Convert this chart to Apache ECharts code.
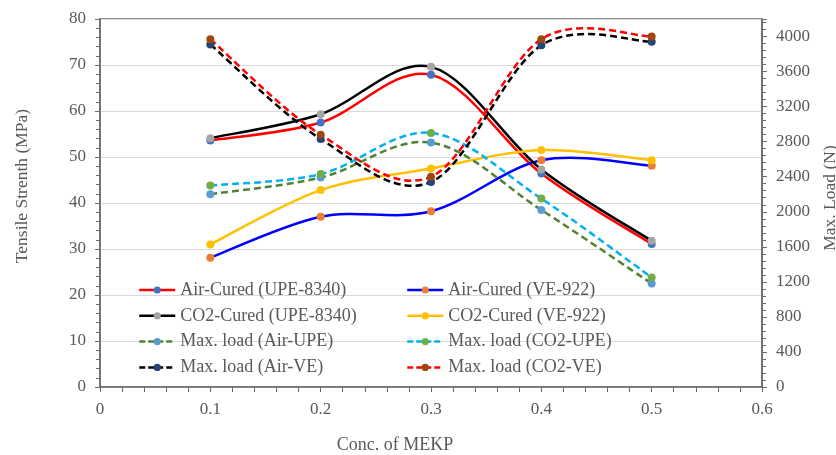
<!DOCTYPE html>
<html><head><meta charset="utf-8">
<script src="https://cdn.jsdelivr.net/npm/echarts@6/dist/echarts.min.js"></script>
<style>html,body{margin:0;padding:0;background:#fff}#c{width:836px;height:455px}</style>
</head><body><div id="c"></div>
<script>
const concentrations = [0.1, 0.2, 0.3, 0.4, 0.5];
const airUPE = [53.6, 57.5, 67.9, 46.4, 31.1];
const co2UPE = [54.1, 59.3, 69.6, 47.3, 31.8];
const airVE = [28.1, 37.0, 38.2, 49.3, 48.1];
const co2VE = [31.0, 42.8, 47.5, 51.5, 49.3];
const loadAirUPE = [2200, 2390, 2790, 2020, 1180];
const loadCO2UPE = [2300, 2430, 2900, 2150, 1250];
const loadAirVE = [3910, 2830, 2340, 3900, 3940];
const loadCO2VE = [3970, 2880, 2400, 3970, 4000];
const seriesNames = ['Air-Cured (UPE-8340)', 'Air-Cured (VE-922)', 'CO2-Cured (UPE-8340)', 'CO2-Cured (VE-922)',
  'Max. load (Air-UPE)', 'Max. load (CO2-UPE)', 'Max. load (Air-VE)', 'Max. load (CO2-VE)'];

const FONT = 'Liberation Serif';
const GRAY = '#595959';
const AXIS = '#6b6b6b';
function pts(vals) { return concentrations.map((x, i) => [x, vals[i]]); }

// Smooth curve (Excel-like Catmull-Rom Bezier) through the data points, positioned by the axes
function curveSeries(name, vals, lineColor, dash, yIdx) {
  return {
    type: 'custom', name: name + ' curve', coordinateSystem: 'cartesian2d', yAxisIndex: yIdx,
    data: [[concentrations[0], vals[0]]], silent: true, clip: false,
    renderItem: function (params, api) {
      const p = concentrations.map((x, i) => api.coord([x, vals[i]]));
      const n = p.length;
      let d = 'M' + p[0][0] + ' ' + p[0][1];
      for (let i = 0; i < n - 1; i++) {
        const p0 = p[Math.max(i - 1, 0)], p1 = p[i], p2 = p[i + 1], p3 = p[Math.min(i + 2, n - 1)];
        const c1x = p1[0] + (p2[0] - p0[0]) / 6, c1y = p1[1] + (p2[1] - p0[1]) / 6;
        const c2x = p2[0] - (p3[0] - p1[0]) / 6, c2y = p2[1] - (p3[1] - p1[1]) / 6;
        d += ' C' + c1x + ' ' + c1y + ' ' + c2x + ' ' + c2y + ' ' + p2[0] + ' ' + p2[1];
      }
      return {
        type: 'path', shape: { pathData: d },
        style: { fill: 'none', stroke: lineColor, lineWidth: 2.5, lineDash: dash ? [7, 4] : null }
      };
    }
  };
}
function markerSeries(name, vals, markColor, yIdx) {
  return {
    name: name, type: 'line', yAxisIndex: yIdx, data: pts(vals),
    symbol: 'circle', symbolSize: 8, showSymbol: true,
    itemStyle: { color: markColor },
    lineStyle: { opacity: 0, width: 0 },
    emphasis: { disabled: true }
  };
}
const styles = [
  { vals: airUPE, line: '#ff0000', mark: '#4472c4', dash: false, y: 0 },
  { vals: airVE, line: '#0000ff', mark: '#ed7d31', dash: false, y: 0 },
  { vals: co2UPE, line: '#000000', mark: '#a5a5a5', dash: false, y: 0 },
  { vals: co2VE, line: '#ffc000', mark: '#ffc000', dash: false, y: 0 },
  { vals: loadAirUPE, line: '#548235', mark: '#5b9bd5', dash: true, y: 1 },
  { vals: loadCO2UPE, line: '#00b0f0', mark: '#70ad47', dash: true, y: 1 },
  { vals: loadAirVE, line: '#000000', mark: '#264478', dash: true, y: 1 },
  { vals: loadCO2VE, line: '#ff0000', mark: '#9e480e', dash: true, y: 1 }
];
const series = [];
styles.forEach((s, i) => {
  series.push(curveSeries(seriesNames[i], s.vals, s.line, s.dash, s.y));
  series.push(markerSeries(seriesNames[i], s.vals, s.mark, s.y));
});
function legendItem(i) {
  const s = styles[i];
  return {
    name: seriesNames[i],
    itemStyle: { color: s.mark, opacity: 1 },
    lineStyle: { color: s.line, width: 2.5, type: s.dash ? [6, 3] : 'solid', opacity: 1 }
  };
}
const legendCommon = {
  orient: 'vertical', itemWidth: 36, itemHeight: 9, itemGap: 7.8, padding: 0,
  textStyle: { fontFamily: FONT, fontSize: 18, color: GRAY, lineHeight: 18 },
  selectedMode: false
};
const chart = echarts.init(document.getElementById('c'));
chart.setOption({
  animation: false,
  grid: { left: 100, right: 74, top: 19, bottom: 68, show: true, borderColor: AXIS, borderWidth: 1.5 },
  legend: [
    Object.assign({ left: 138, top: 281, data: [0, 2, 4, 6].map(legendItem) }, legendCommon),
    Object.assign({ left: 406, top: 281, data: [1, 3, 5, 7].map(legendItem) }, legendCommon)
  ],
  xAxis: {
    type: 'value', min: 0, max: 0.6, interval: 0.1,
    axisLine: { lineStyle: { color: AXIS, width: 1.5 } },
    axisTick: { show: true, length: 5, lineStyle: { color: AXIS } },
    minorTick: { show: true, splitNumber: 5, length: 5, lineStyle: { color: AXIS } },
    splitLine: { show: false },
    axisLabel: { fontFamily: FONT, fontSize: 17, color: GRAY, margin: 14 }
  },
  yAxis: [
    {
      type: 'value', min: 0, max: 80, interval: 10, position: 'left',
      axisLine: { show: true, lineStyle: { color: AXIS, width: 1.5 } },
      axisTick: { show: true, length: 5, lineStyle: { color: AXIS } },
      minorTick: { show: true, splitNumber: 5, length: 4, lineStyle: { color: AXIS } },
      splitLine: { show: true, lineStyle: { color: '#d9d9d9', width: 1.2 } },
      axisLabel: { fontFamily: FONT, fontSize: 17, color: GRAY, margin: 14 }
    },
    {
      type: 'value', min: 0, max: 4200, interval: 400, position: 'right',
      axisLine: { show: true, lineStyle: { color: AXIS, width: 1.5 } },
      axisTick: { show: true, length: 5, lineStyle: { color: AXIS } },
      minorTick: { show: true, splitNumber: 5, length: 4, lineStyle: { color: AXIS } },
      splitLine: { show: false },
      axisLabel: { fontFamily: FONT, fontSize: 17, color: GRAY, margin: 14,
        formatter: v => (v % 400 === 0 ? String(v) : '') }
    }
  ],
  graphic: [
    { type: 'text', x: 22, y: 186, rotation: Math.PI / 2,
      style: { text: 'Tensile Strenth (MPa)', fontFamily: FONT, fontSize: 17.5, fill: GRAY, align: 'center', verticalAlign: 'middle' } },
    { type: 'text', x: 830, y: 198, rotation: Math.PI / 2,
      style: { text: 'Max. Load (N)', fontFamily: FONT, fontSize: 17.5, fill: GRAY, align: 'center', verticalAlign: 'middle' } },
    { type: 'text', x: 395, y: 445,
      style: { text: 'Conc. of MEKP', fontFamily: FONT, fontSize: 18, fill: GRAY, align: 'center', verticalAlign: 'middle' } }
  ],
  series: series
});
</script></body></html>
